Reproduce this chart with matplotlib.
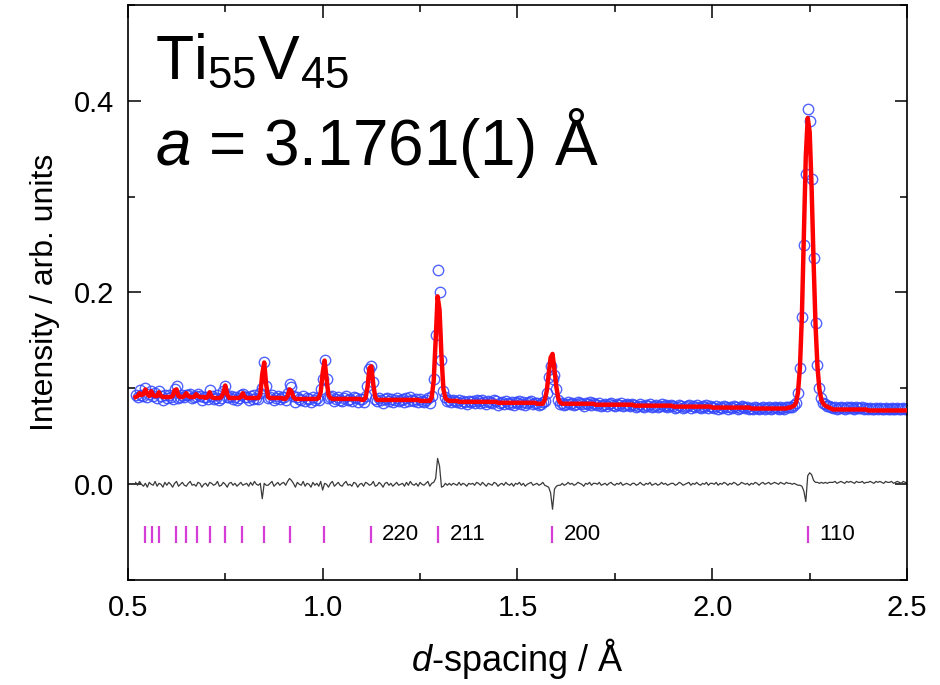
import numpy as np
import matplotlib
matplotlib.use("Agg")
import matplotlib.pyplot as plt
from matplotlib.ticker import MultipleLocator, FormatStrFormatter

plt.rcParams['font.family'] = ['Liberation Sans', 'DejaVu Sans']
plt.rcParams['mathtext.fontset'] = 'custom'
plt.rcParams['mathtext.rm'] = 'Liberation Sans'
plt.rcParams['mathtext.it'] = 'Liberation Sans:italic'

# d-spacing sampling: 0.520 ... 2.500 Å in 0.005 Å steps
d_start = 0.520
d_step = 0.005

# Observed intensity (units of 1e-3), one row per 0.1 Å
obs_milli = [
    93, 91, 98, 93, 92, 100, 91, 94, 97, 92, 95, 90, 97, 92, 88, 93,
    90, 93, 91, 89, 99, 102, 90, 91, 93, 91, 93, 93, 94, 90, 91, 92, 94, 92, 88, 91,
    91, 89, 98, 92, 89, 90, 93, 88, 90, 97, 103, 91, 91, 92, 89, 91, 88, 90, 93, 94,
    91, 91, 88, 92, 89, 93, 90, 89, 95, 100, 128, 103, 90, 91, 93, 88, 90, 92, 89, 91,
    91, 88, 95, 105, 101, 92, 86, 91, 89, 88, 92, 87, 90, 89, 86, 91, 88, 90, 88, 99,
    110, 130, 110, 90, 91, 92, 87, 89, 91, 88, 87, 90, 92, 88, 89, 87, 91, 90, 86, 89,
    89, 86, 92, 102, 120, 123, 107, 89, 87, 90, 88, 85, 89, 90, 87, 89, 86, 88, 90, 87,
    88, 89, 86, 90, 87, 91, 88, 87, 89, 86, 89, 87, 86, 88, 90, 85, 92, 110, 156, 223,
    201, 130, 97, 91, 87, 88, 86, 88, 87, 86, 88, 85, 87, 86, 84, 87, 86, 87, 85, 88,
    87, 85, 88, 86, 84, 87, 86, 85, 88, 87, 83, 85, 86, 84, 87, 85, 84, 86, 83, 86,
    85, 87, 84, 86, 83, 85, 86, 87, 84, 85, 85, 83, 84, 86, 87, 95, 112, 123, 110, 114,
    99, 88, 84, 85, 83, 84, 86, 84, 85, 83, 84, 86, 85, 84, 82, 85, 84, 86, 83, 85,
    84, 83, 85, 82, 83, 84, 82, 84, 85, 83, 82, 84, 83, 85, 82, 83, 84, 83, 82, 84,
    83, 81, 82, 84, 82, 81, 83, 82, 84, 81, 82, 83, 81, 82, 84, 82, 83, 81, 82, 83,
    82, 80, 81, 83, 82, 80, 81, 82, 83, 80, 82, 81, 83, 81, 80, 82, 81, 83, 80, 82,
    81, 80, 82, 79, 81, 80, 82, 81, 79, 81, 80, 82, 81, 79, 80, 82, 81, 80, 81, 79,
    80, 79, 81, 80, 78, 80, 81, 79, 80, 81, 79, 80, 81, 80, 79, 81, 80, 79, 81, 81,
    81, 81, 83, 85, 95, 121, 174, 250, 324, 391, 379, 318, 236, 168, 124, 100, 90, 85, 84, 82,
    82, 81, 80, 81, 79, 80, 81, 80, 79, 81, 80, 81, 80, 79, 81, 80, 80, 81, 79, 80,
    79, 80, 79, 78, 80, 79, 80, 79, 78, 80, 79, 79, 80, 78, 79, 80, 79, 78, 80, 79,
    79,
]

# Calculated profile (units of 1e-3) on the same sampling
calc_milli = [
    91, 92, 95, 93, 94, 99, 94, 92, 97, 93, 92, 92, 96, 92, 91, 91,
    91, 91, 91, 92, 98, 99, 92, 91, 91, 92, 95, 92, 91, 91, 91, 94, 92, 91, 91, 91,
    90, 91, 96, 91, 90, 90, 90, 90, 91, 95, 103, 94, 90, 90, 90, 90, 90, 90, 91, 95,
    91, 90, 90, 90, 90, 90, 90, 90, 94, 115, 127, 104, 91, 90, 90, 90, 90, 90, 90, 90,
    89, 89, 92, 99, 97, 91, 89, 89, 89, 89, 89, 89, 89, 89, 89, 89, 89, 89, 90, 96,
    116, 129, 110, 93, 90, 89, 89, 89, 89, 89, 89, 89, 89, 89, 89, 89, 89, 89, 89, 89,
    88, 88, 90, 101, 121, 123, 104, 91, 88, 88, 88, 88, 88, 88, 88, 88, 88, 88, 88, 88,
    88, 88, 88, 88, 88, 88, 88, 88, 88, 88, 87, 87, 87, 87, 87, 87, 91, 108, 150, 196,
    182, 133, 99, 90, 88, 87, 87, 87, 87, 87, 86, 86, 86, 86, 86, 86, 86, 86, 86, 86,
    86, 86, 86, 86, 86, 86, 86, 86, 86, 86, 85, 85, 85, 85, 85, 85, 85, 85, 85, 85,
    85, 85, 85, 85, 85, 85, 85, 85, 85, 85, 84, 84, 84, 84, 88, 97, 115, 132, 136, 119,
    101, 89, 85, 84, 84, 84, 84, 84, 84, 84, 84, 84, 84, 84, 84, 84, 84, 84, 84, 84,
    83, 83, 83, 83, 83, 83, 83, 83, 83, 83, 83, 83, 83, 83, 83, 83, 83, 83, 83, 83,
    82, 82, 82, 82, 82, 82, 82, 82, 82, 82, 82, 82, 82, 82, 82, 82, 82, 82, 82, 82,
    81, 81, 81, 81, 81, 81, 81, 81, 81, 81, 81, 81, 81, 81, 81, 81, 81, 81, 81, 81,
    80, 80, 80, 80, 80, 80, 80, 80, 80, 80, 80, 80, 80, 80, 80, 80, 80, 80, 80, 80,
    79, 79, 79, 79, 79, 79, 79, 79, 79, 79, 79, 79, 79, 79, 79, 79, 79, 79, 79, 80,
    80, 81, 82, 85, 96, 122, 176, 257, 342, 382, 367, 308, 232, 166, 122, 99, 88, 84, 82, 81,
    80, 79, 78, 78, 78, 78, 78, 78, 78, 78, 78, 78, 78, 78, 78, 78, 78, 78, 78, 78,
    77, 77, 77, 77, 77, 77, 77, 77, 77, 77, 77, 77, 77, 77, 77, 77, 77, 77, 77, 77,
    77,
]

# Bragg reflection positions (Å) for bcc Ti55V45, a = 3.1761 Å
reflections = [0.5447, 0.5615, 0.5799, 0.6229, 0.6483, 0.6772, 0.7102, 0.7486,
               0.7940, 0.8489, 0.9169, 1.0044, 1.1229, 1.2966, 1.5881, 2.2458]
hkl_labels = ["220", "211", "200", "110"]
hkl_positions = [1.1229, 1.2966, 1.5881, 2.2458]

obs = np.array(obs_milli) / 1000.0
calc = np.array(calc_milli) / 1000.0
assert len(obs) == len(calc)
d = np.round(d_start + d_step * np.arange(len(obs)), 4)
diff = obs - calc

fig = plt.figure(figsize=(9.4, 6.85), dpi=100)
ax = fig.add_axes([0.136, 0.153, 0.829, 0.840])

ax.plot(d, obs, linestyle='none', marker='o', ms=7.5, mfc='none',
        mec='#3348ff', mew=1.0, alpha=0.85, zorder=2)
ax.plot(d, calc, color='#ff0000', lw=3.2, zorder=3)
ax.plot(d, diff, color='#3a3a3a', lw=0.9, zorder=2)

ax.vlines(reflections, -0.061, -0.043, color='#d63cd6', lw=1.6)
for lab, pos in zip(hkl_labels, hkl_positions):
    ax.text(pos + 0.03, -0.052, lab, fontsize=16, ha='left', va='center')

ax.set_xlim(0.5, 2.5)
ax.set_ylim(-0.1, 0.5)
ax.xaxis.set_major_locator(MultipleLocator(0.5))
ax.xaxis.set_minor_locator(MultipleLocator(0.25))
ax.yaxis.set_major_locator(MultipleLocator(0.2))
ax.yaxis.set_minor_locator(MultipleLocator(0.1))
ax.xaxis.set_major_formatter(FormatStrFormatter('%.1f'))
ax.yaxis.set_major_formatter(FormatStrFormatter('%.1f'))
ax.tick_params(which='both', direction='in', top=True, right=True, width=1.1)
ax.tick_params(which='major', length=9, labelsize=21, pad=10)
ax.tick_params(which='minor', length=5)
for sp in ax.spines.values():
    sp.set_linewidth(1.2)

ax.set_xlabel(r"$d$-spacing / Å", fontsize=26, labelpad=10)
ax.set_ylabel("Intensity / arb. units", fontsize=23, labelpad=10)

ax.text(0.035, 0.870, r"Ti$_{55}$V$_{45}$", transform=ax.transAxes,
        fontsize=45, ha='left', va='baseline')
ax.text(0.035, 0.722, r"$a$ = 3.1761(1) Å", transform=ax.transAxes,
        fontsize=46, ha='left', va='baseline')

fig.savefig("out.png", dpi=100)
